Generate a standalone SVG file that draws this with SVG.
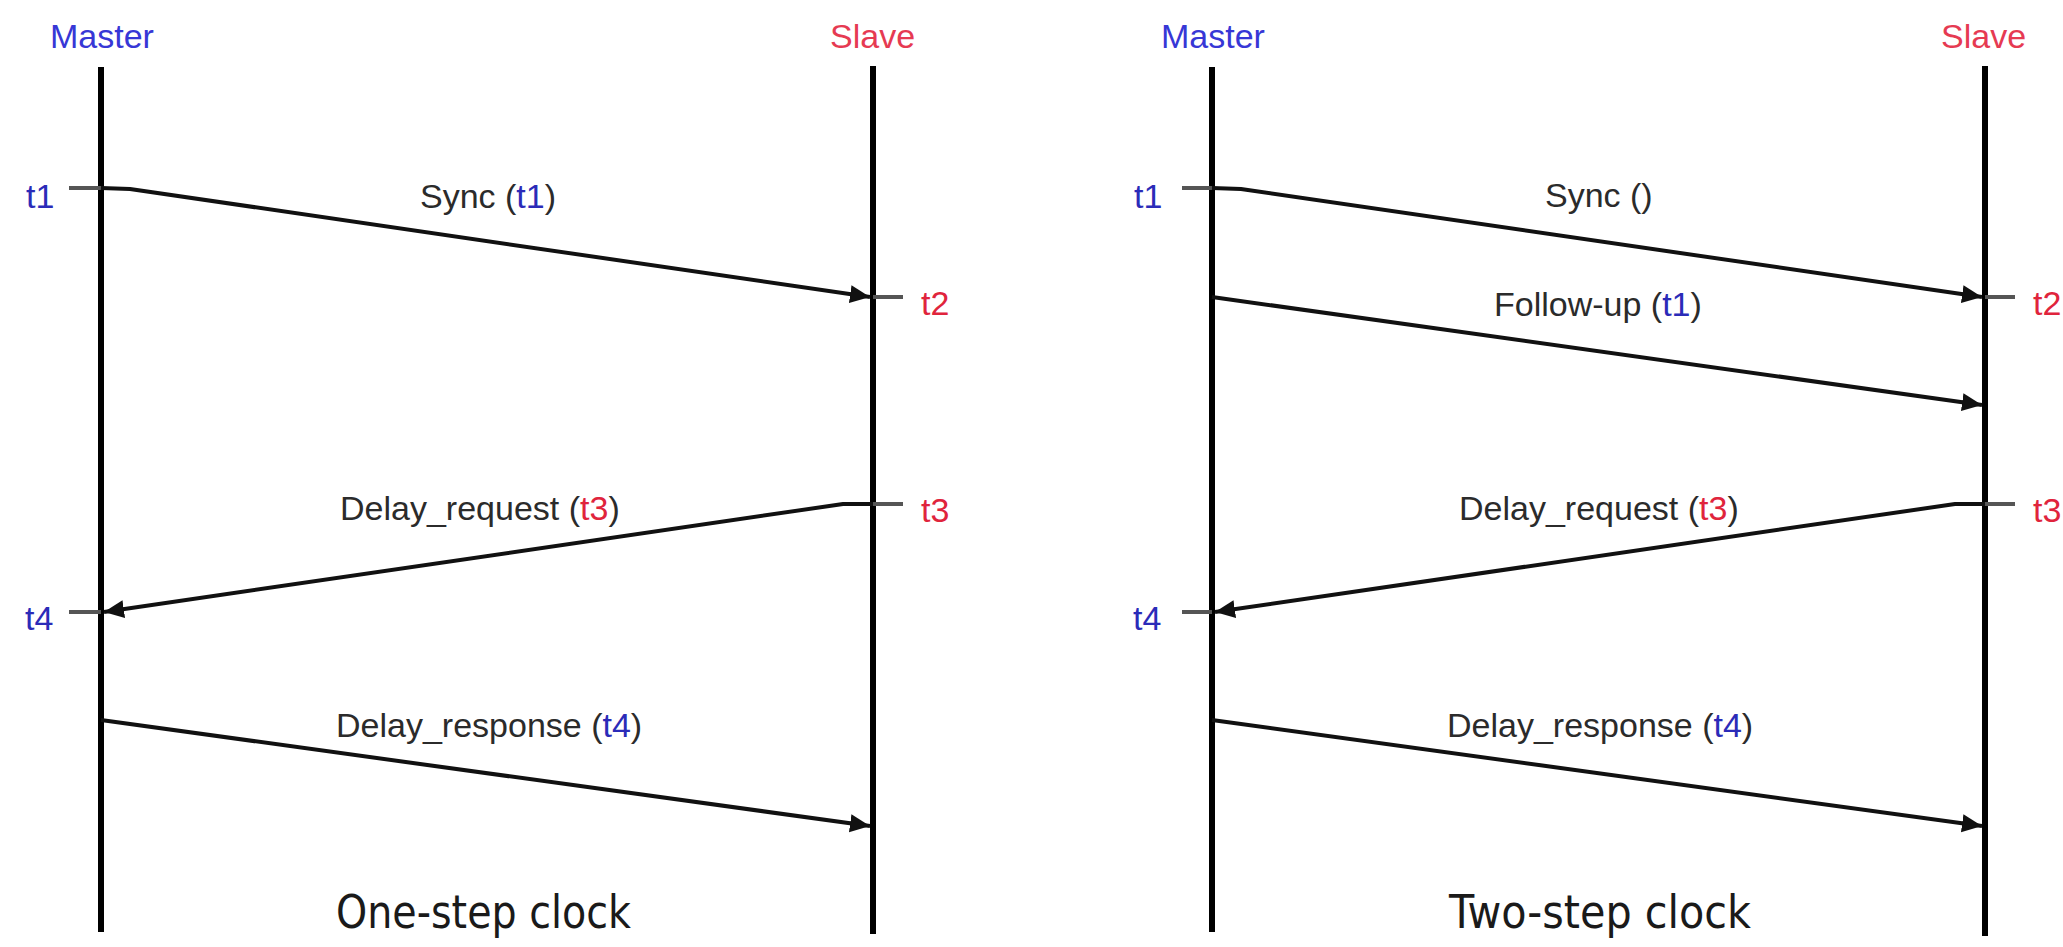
<svg xmlns="http://www.w3.org/2000/svg" width="2063" height="947" viewBox="0 0 2063 947">
  <style>
    .lifeline { stroke: #000; stroke-width: 6; fill: none; }
    .tick { stroke: #555; stroke-width: 4; fill: none; }
    .msg { stroke: #111; stroke-width: 4; fill: none; stroke-linejoin: round; }
    .lbl { font-family: "Liberation Sans", Arial, sans-serif; font-size: 34px; fill: #2b2b2b; }
    .master { fill: #3737d6; }
    .slave { fill: #e63a52; }
    .tb { fill: #2b2bb8; }
    .tr { fill: #e0243c; }
    .title { font-family: "DejaVu Sans", Verdana, sans-serif; font-size: 47px; fill: #1a1a1a; }
  </style>
  <defs>
    <marker id="arrow" markerUnits="userSpaceOnUse" markerWidth="22" markerHeight="20" refX="20" refY="9" orient="auto">
      <path d="M0,0 L20,9 L0,18 z" fill="#111"/>
    </marker>
  </defs>
  <rect width="2063" height="947" fill="#fff"/>

  <!-- One-step clock panel -->
  <g id="one-step-master">
    <text class="lbl master" x="50" y="48">Master</text>
    <line class="lifeline" x1="101" y1="67" x2="101" y2="932"/>
    <line class="tick" x1="69" y1="188" x2="101" y2="188"/>
    <text class="lbl tb" x="26" y="208">t1</text>
    <line class="tick" x1="69" y1="612" x2="101" y2="612"/>
    <text class="lbl tb" x="25" y="630">t4</text>
  </g>
  <g id="one-step-slave">
    <text class="lbl slave" x="830" y="48">Slave</text>
    <line class="lifeline" x1="873" y1="66" x2="873" y2="934"/>
    <line class="tick" x1="873" y1="297" x2="903" y2="297"/>
    <text class="lbl tr" x="921" y="315">t2</text>
    <line class="tick" x1="873" y1="504" x2="903" y2="504"/>
    <text class="lbl tr" x="921" y="522">t3</text>
  </g>
  <g id="one-step-title">
    <text class="title" x="336" y="928" textLength="295" lengthAdjust="spacingAndGlyphs">One-step clock</text>
  </g>

  <!-- Two-step clock panel -->
  <g id="two-step-master">
    <text class="lbl master" x="1161" y="48">Master</text>
    <line class="lifeline" x1="1212" y1="67" x2="1212" y2="932"/>
    <line class="tick" x1="1182" y1="188" x2="1212" y2="188"/>
    <text class="lbl tb" x="1134" y="208">t1</text>
    <line class="tick" x1="1182" y1="612" x2="1212" y2="612"/>
    <text class="lbl tb" x="1133" y="630">t4</text>
  </g>
  <g id="two-step-slave">
    <text class="lbl slave" x="1941" y="48">Slave</text>
    <line class="lifeline" x1="1985" y1="66" x2="1985" y2="936"/>
    <line class="tick" x1="1985" y1="297" x2="2015" y2="297"/>
    <text class="lbl tr" x="2033" y="315">t2</text>
    <line class="tick" x1="1985" y1="504" x2="2015" y2="504"/>
    <text class="lbl tr" x="2033" y="522">t3</text>
  </g>
  <g id="two-step-title">
    <text class="title" x="1449" y="928" textLength="302" lengthAdjust="spacingAndGlyphs">Two-step clock</text>
  </g>

  <!-- Message connectors -->
  <g id="connectors">
    <polyline class="msg" points="101,188 130,189 870,297" marker-end="url(#arrow)"/>
    <polyline class="msg" points="873,504 843,504 104,612" marker-end="url(#arrow)"/>
    <line class="msg" x1="101" y1="720" x2="870" y2="826" marker-end="url(#arrow)"/>

    <polyline class="msg" points="1212,188 1241,189 1982,297" marker-end="url(#arrow)"/>
    <line class="msg" x1="1212" y1="297" x2="1982" y2="405" marker-end="url(#arrow)"/>
    <polyline class="msg" points="1985,504 1955,504 1215,612" marker-end="url(#arrow)"/>
    <line class="msg" x1="1212" y1="720" x2="1982" y2="826" marker-end="url(#arrow)"/>
  </g>

  <!-- Message labels -->
  <g id="labels">
    <text class="lbl" x="420" y="208">Sync (<tspan class="tb">t1</tspan>)</text>
    <text class="lbl" x="340" y="520">Delay_request (<tspan class="tr">t3</tspan>)</text>
    <text class="lbl" x="336" y="737">Delay_response (<tspan class="tb">t4</tspan>)</text>

    <text class="lbl" x="1545" y="207">Sync ()</text>
    <text class="lbl" x="1494" y="316">Follow-up (<tspan class="tb">t1</tspan>)</text>
    <text class="lbl" x="1459" y="520">Delay_request (<tspan class="tr">t3</tspan>)</text>
    <text class="lbl" x="1447" y="737">Delay_response (<tspan class="tb">t4</tspan>)</text>
  </g>
</svg>
